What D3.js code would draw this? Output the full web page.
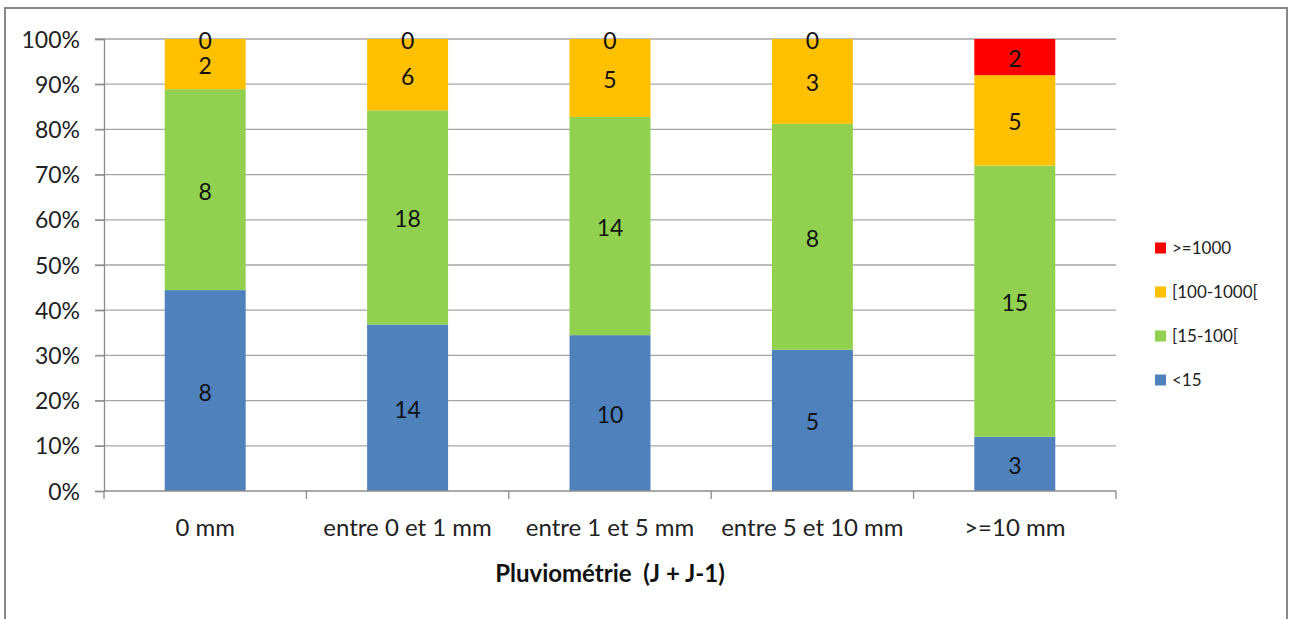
<!DOCTYPE html>
<html><head><meta charset="utf-8">
<script src="https://cdn.jsdelivr.net/npm/d3@7"></script>
<style>
html,body{margin:0;padding:0;background:#fff;}
svg{display:block;font-family:Lato,"Open Sans",sans-serif;}
</style></head>
<body>
<svg id="c" width="1290" height="619"></svg>
<script>
const categories = ["0 mm", "entre 0 et 1 mm", "entre 1 et 5 mm", "entre 5 et 10 mm", ">=10 mm"];
const seriesNames = ["<15", "[15-100[", "[100-1000[", ">=1000"];
const s_lt15 = [8, 14, 10, 5, 3];
const s_15_100 = [8, 18, 14, 8, 15];
const s_100_1000 = [2, 6, 5, 3, 5];
const s_ge1000 = [0, 0, 0, 0, 2];
const colors = ["#4f81bd", "#92d050", "#ffc000", "#ff0000"];
const yTicks = [0, 0.1, 0.2, 0.3, 0.4, 0.5, 0.6, 0.7, 0.8, 0.9, 1];
const xTitle = "Pluviométrie  (J + J-1)";

const seriesVals = [s_lt15, s_15_100, s_100_1000, s_ge1000];
const rows = categories.map((c, i) => {
  const r = {cat: c};
  seriesNames.forEach((s, k) => r[s] = seriesVals[k][i]);
  return r;
});
const stack = d3.stack().keys(seriesNames).offset(d3.stackOffsetExpand);
const stacked = stack(rows);

const svg = d3.select("#c");
const L = 104, R = 1116, T = 39, B = 491;
const x = d3.scaleBand().domain(categories).range([L, R]).padding(0);
const y = d3.scaleLinear().domain([0, 1]).range([B, T]);
const barW = x.bandwidth() * 0.4;

// frame
svg.append("path").attr("d", "M5,625 L5,8 L1287,8 L1287,625")
  .attr("fill", "none").attr("stroke", "#888").attr("stroke-width", 2);

// gridlines
svg.append("g").selectAll("line").data(yTicks.filter(d => d > 0)).join("line")
  .attr("x1", L - 9).attr("x2", R).attr("y1", d => y(d)).attr("y2", d => y(d))
  .attr("stroke", "#a6a6a6").attr("stroke-width", 1.3);

// y axis
const yAxis = d3.axisLeft(y).tickValues(yTicks).tickFormat(d3.format(".0%")).tickSize(9).tickPadding(15);
const gy = svg.append("g").attr("transform", `translate(${L},0)`).call(yAxis);
gy.select(".domain").attr("stroke", "#8c8c8c").attr("stroke-width", 1.3);
gy.selectAll(".tick line").attr("stroke", "#8c8c8c").attr("stroke-width", 1.3);
gy.selectAll("text").attr("font-size", 23).attr("fill", "#222").attr("font-family", "Lato, sans-serif")
  .attr("dy", "0.35em");

// bars
const layer = svg.append("g").selectAll("g").data(stacked).join("g")
  .attr("fill", (d, i) => colors[i]);
layer.selectAll("rect").data(d => d.map(v => ({v, cat: v.data.cat}))).join("rect")
  .attr("x", d => x(d.cat) + (x.bandwidth() - barW) / 2)
  .attr("width", barW)
  .attr("y", d => y(d.v[1]))
  .attr("height", d => y(d.v[0]) - y(d.v[1]));

// x axis
const xAxisG = svg.append("g").attr("transform", `translate(0,${B})`);
xAxisG.append("line").attr("x1", L).attr("x2", R).attr("y1", 0).attr("y2", 0)
  .attr("stroke", "#8c8c8c").attr("stroke-width", 1.3);
const bounds = categories.map(c => x(c)).concat([R]);
xAxisG.selectAll("line.tk").data(bounds).join("line").attr("class", "tk")
  .attr("x1", d => d).attr("x2", d => d).attr("y1", 0).attr("y2", 8)
  .attr("stroke", "#8c8c8c").attr("stroke-width", 1.3);
xAxisG.selectAll("text").data(categories).join("text")
  .attr("x", d => x(d) + x.bandwidth() / 2).attr("y", 45)
  .attr("text-anchor", "middle").attr("font-size", 24).attr("fill", "#222")
  .text(d => d);

// data labels
stacked.forEach((ser, k) => {
  svg.append("g").selectAll("text").data(ser).join("text")
    .attr("x", d => x(d.data.cat) + x.bandwidth() / 2)
    .attr("y", d => y((d[0] + d[1]) / 2) + 2)
    .attr("dy", "0.35em")
    .attr("text-anchor", "middle").attr("font-size", 23).attr("fill", "#111")
    .text(d => d.data[ser.key]);
});

// x title
svg.append("text").attr("x", (L + R) / 2).attr("y", 582).attr("text-anchor", "middle")
  .attr("font-size", 24).attr("font-weight", "bold").attr("fill", "#111")
  .attr("xml:space", "preserve").style("white-space", "pre")
  .text(xTitle);

// legend
const legOrder = [3, 2, 1, 0];
const lg = svg.append("g").selectAll("g").data(legOrder).join("g")
  .attr("transform", (d, i) => `translate(1155,${248 + i * 44})`);
lg.append("rect").attr("x", 0).attr("y", -5.5).attr("width", 11).attr("height", 11)
  .attr("fill", d => colors[d]);
lg.append("text").attr("x", 17).attr("y", 0).attr("dy", "0.35em")
  .attr("font-size", 17).attr("fill", "#222").text(d => seriesNames[d]);
</script>
</body></html>
